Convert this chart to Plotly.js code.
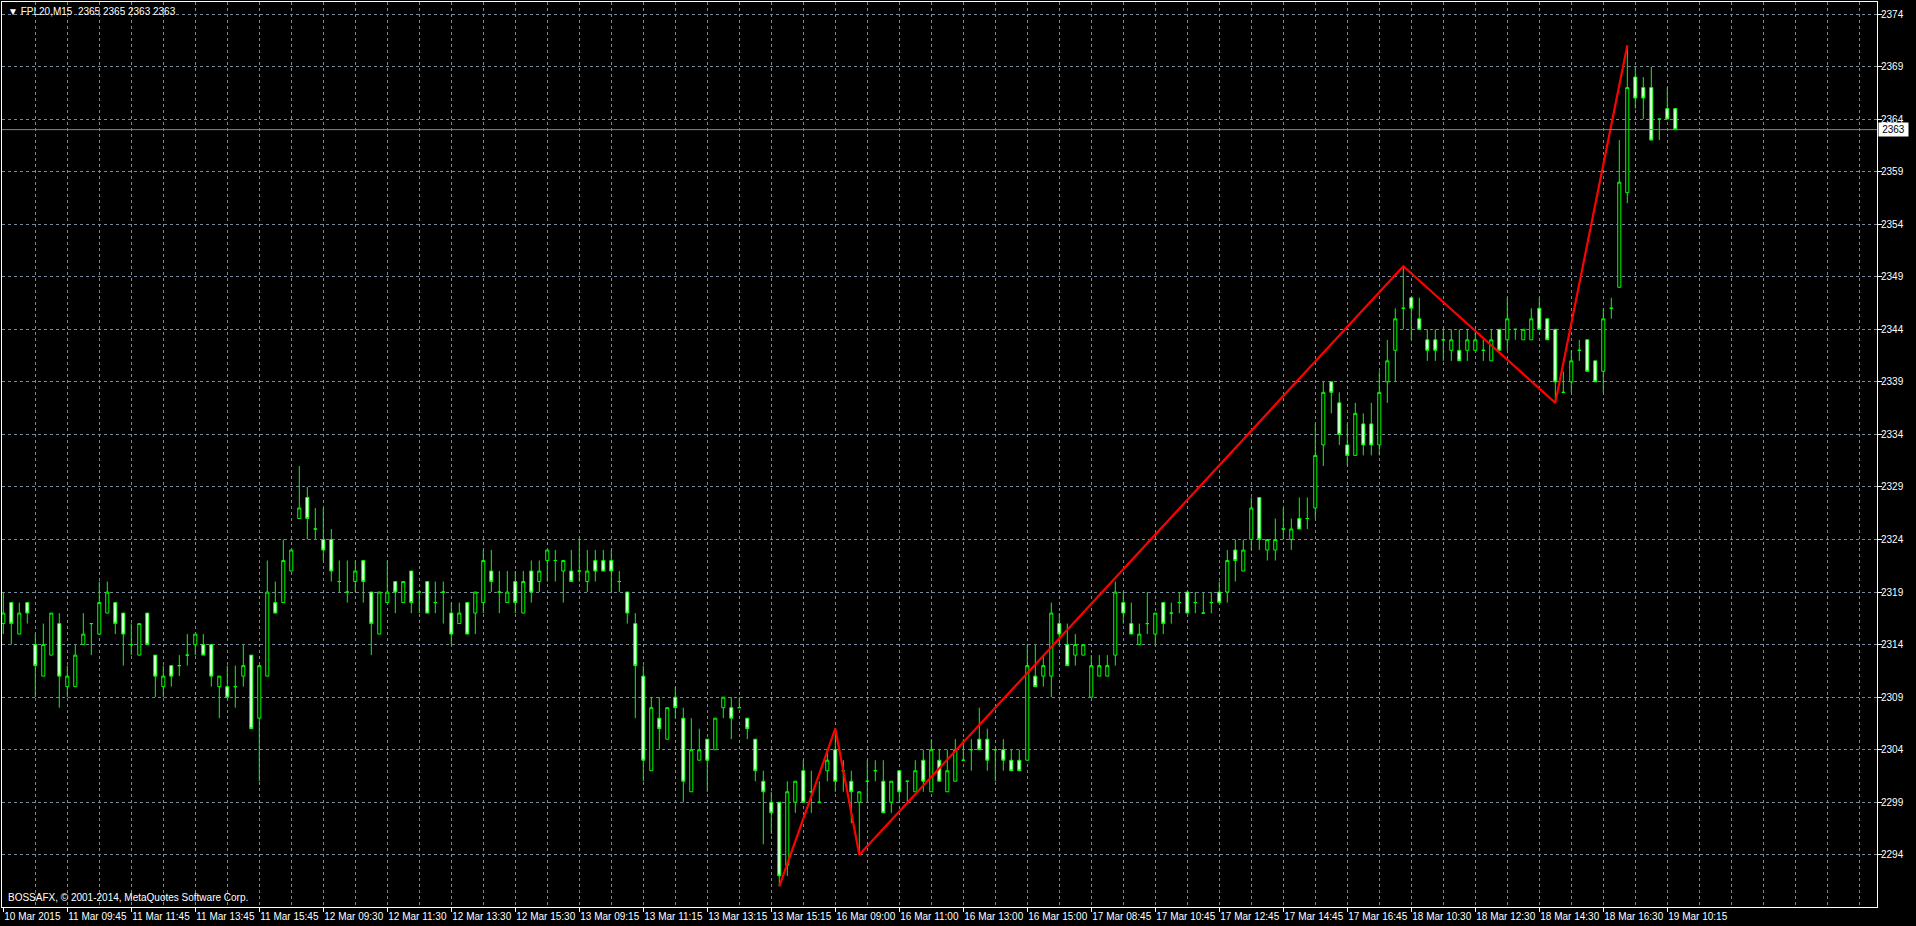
<!DOCTYPE html>
<html><head><meta charset="utf-8">
<script src="https://cdn.plot.ly/plotly-3.0.1.min.js"></script>
<style>html,body{margin:0;padding:0;background:#000;overflow:hidden}#chart{width:1916px;height:926px}</style>
</head><body><div id="chart"></div>
<script>
const symbol = "FPL20,M15";
const copyright = "BOSSAFX, \u00A9 2001-2014, MetaQuotes Software Corp.";

const openP = [
2316,2318,2315,2318,2314,2311,2313,2316,2310,2310,2314,2316,2315,2317,2318,2317,2314,2313,2317,2313,
2310,2312,2312,2313,2314,2314,2314,2310,2310,2310,2311,2313,2307,2311,2318,2318,2321,2326,2328,2325,
2324,2324,2320,2319,2320,2322,2319,2315,2318,2320,2318,2321,2319,2320,2318,2319,2317,2316,2318,2317,
2318,2321,2319,2318,2320,2317,2321,2320,2322,2322,2321,2321,2321,2320,2322,2322,2322,2320,2319,2316,
2311,2302,2307,2305,2309,2307,2300,2303,2305,2304,2308,2308,2308,2307,2305,2301,2299,2299,2293,2299,
2302,2300,2299,2302,2304,2302,2301,2299,2301,2302,2301,2299,2302,2301,2300,2303,2300,2303,2300,2301,
2303,2304,2305,2305,2304,2304,2303,2303,2303,2311,2311,2311,2316,2314,2313,2313,2309,2311,2311,2313,
2318,2316,2314,2316,2315,2318,2317,2318,2319,2318,2317,2318,2319,2319,2323,2321,2324,2328,2323,2323,
2325,2324,2326,2326,2327,2333,2339,2337,2333,2332,2335,2335,2333,2339,2342,2346,2347,2345,2343,2343,
2343,2342,2342,2342,2342,2342,2341,2344,2343,2344,2343,2343,2346,2345,2344,2338,2339,2342,2343,2341,
2340,2346,2348,2357,2368,2367,2367,2364,2365,2365];
const highP = [
2319,2318,2318,2318,2315,2316,2317,2317,2312,2314,2317,2316,2320,2320,2318,2317,2316,2316,2317,2313,
2312,2312,2313,2315,2315,2315,2314,2311,2312,2312,2314,2313,2312,2322,2320,2324,2323,2331,2329,2327,
2327,2325,2322,2322,2322,2322,2319,2319,2322,2320,2320,2321,2319,2320,2320,2320,2318,2318,2318,2319,
2323,2323,2321,2321,2321,2321,2322,2322,2323,2323,2322,2323,2324,2323,2323,2323,2323,2321,2319,2317,
2312,2309,2309,2308,2310,2308,2307,2306,2305,2307,2309,2309,2309,2307,2305,2302,2300,2299,2301,2301,
2303,2302,2301,2304,2306,2303,2302,2300,2303,2303,2303,2301,2302,2301,2303,2304,2305,2304,2304,2305,
2305,2305,2308,2306,2304,2305,2304,2304,2314,2314,2313,2318,2317,2316,2315,2314,2313,2313,2313,2320,
2319,2318,2316,2319,2317,2318,2318,2319,2319,2319,2319,2319,2320,2323,2324,2324,2328,2328,2324,2326,
2327,2326,2328,2328,2335,2339,2339,2338,2335,2337,2336,2337,2340,2343,2346,2350,2347,2347,2344,2344,
2344,2344,2344,2344,2344,2343,2344,2344,2347,2344,2344,2346,2347,2345,2344,2340,2342,2343,2343,2341,
2346,2347,2362,2371,2369,2368,2369,2364,2367,2365];
const lowP = [
2315,2314,2315,2316,2309,2311,2313,2308,2309,2310,2314,2313,2315,2317,2315,2312,2313,2313,2314,2309,
2309,2310,2311,2312,2313,2313,2310,2307,2309,2308,2310,2306,2301,2311,2317,2318,2321,2326,2324,2324,
2322,2320,2319,2318,2319,2318,2313,2315,2318,2317,2318,2317,2317,2317,2317,2316,2314,2316,2315,2315,
2317,2319,2317,2318,2317,2317,2318,2319,2320,2320,2318,2320,2320,2319,2320,2321,2319,2319,2316,2307,
2301,2302,2304,2305,2307,2299,2300,2303,2300,2304,2307,2305,2308,2305,2301,2295,2296,2291,2292,2298,
2299,2298,2299,2301,2300,2300,2297,2294,2299,2301,2298,2298,2299,2299,2300,2300,2300,2301,2300,2301,
2303,2302,2304,2302,2301,2302,2302,2302,2303,2310,2310,2309,2314,2312,2312,2313,2309,2311,2311,2312,
2316,2315,2314,2315,2314,2315,2316,2317,2317,2317,2317,2317,2318,2318,2320,2321,2323,2323,2322,2322,
2324,2323,2325,2325,2326,2331,2336,2333,2331,2332,2332,2332,2332,2337,2339,2344,2343,2344,2341,2341,
2341,2341,2341,2341,2342,2341,2341,2342,2342,2343,2343,2343,2344,2343,2337,2338,2338,2341,2340,2339,
2338,2345,2348,2356,2365,2364,2362,2362,2364,2363];
const closeP = [
2317,2316,2317,2317,2312,2314,2317,2311,2311,2313,2315,2316,2318,2319,2316,2315,2314,2316,2314,2311,
2311,2311,2312,2313,2315,2313,2311,2311,2309,2310,2312,2306,2312,2319,2317,2322,2323,2327,2326,2325,
2323,2321,2320,2319,2321,2320,2316,2319,2319,2319,2320,2318,2319,2317,2318,2319,2315,2317,2315,2319,
2322,2320,2319,2319,2318,2320,2319,2321,2323,2322,2322,2320,2321,2321,2321,2321,2321,2320,2317,2312,
2303,2308,2306,2308,2308,2301,2304,2304,2303,2307,2309,2307,2308,2306,2302,2300,2298,2292,2300,2301,
2299,2300,2299,2303,2301,2302,2300,2300,2301,2302,2298,2301,2300,2301,2302,2301,2304,2301,2302,2304,
2303,2304,2304,2303,2304,2303,2302,2302,2312,2310,2312,2317,2315,2312,2314,2314,2312,2312,2312,2319,
2317,2315,2315,2316,2317,2316,2317,2318,2317,2318,2317,2318,2318,2322,2322,2323,2327,2324,2324,2324,
2325,2325,2325,2326,2332,2338,2338,2334,2332,2336,2333,2333,2338,2341,2345,2346,2346,2344,2342,2342,
2343,2343,2341,2343,2343,2342,2343,2342,2345,2344,2344,2345,2344,2343,2339,2338,2341,2342,2340,2339,
2345,2346,2358,2367,2366,2366,2362,2364,2364,2363];

const timeLabels = ["10 Mar 2015","11 Mar 09:45","11 Mar 11:45","11 Mar 13:45","11 Mar 15:45",
"12 Mar 09:30","12 Mar 11:30","12 Mar 13:30","12 Mar 15:30","13 Mar 09:15","13 Mar 11:15",
"13 Mar 13:15","13 Mar 15:15","16 Mar 09:00","16 Mar 11:00","16 Mar 13:00","16 Mar 15:00",
"17 Mar 08:45","17 Mar 10:45","17 Mar 12:45","17 Mar 14:45","17 Mar 16:45","18 Mar 10:30",
"18 Mar 12:30","18 Mar 14:30","18 Mar 16:30","19 Mar 10:15"];
const barsPerLabel = 8;
const priceTicks = [2294,2299,2304,2309,2314,2319,2324,2329,2334,2339,2344,2349,2354,2359,2364,2369,2374];

const zigzagBar = [97,104,107,175,194,203];
const zigzagPrice = [2291,2306,2294,2350,2337,2371];

const n = openP.length;
const bars = openP.map((_, i) => i);
const last = n - 1;
const FONT = "'Liberation Sans', Arial, sans-serif";
const GRID = "#778899";
const xRange = [-0.1625, 234.2125];
const yRange = [2289.034, 2375.142];

const gridBars = [];
for (let g = 4; g < xRange[1]; g += 4) gridBars.push(g);

const traces = [
  {type:'scatter', x:[], y:[], xaxis:'x2', yaxis:'y', hoverinfo:'skip', showlegend:false},
  {type:'candlestick', x:bars, open:openP, high:highP, low:lowP, close:closeP,
   increasing:{line:{color:'#00ff00', width:1}, fillcolor:'#000000'},
   decreasing:{line:{color:'#00ff00', width:1}, fillcolor:'#ffffff'},
   whiskerwidth:0, hoverinfo:'skip', showlegend:false},
  {type:'scatter', mode:'lines', x:zigzagBar, y:zigzagPrice,
   line:{color:'#ff0000', width:2.2}, hoverinfo:'skip', showlegend:false}
];

const layout = {
  width:1916, height:926,
  margin:{l:2, r:39, t:2, b:19, pad:0},
  paper_bgcolor:'#000', plot_bgcolor:'#000',
  showlegend:false, boxgap:0.45,
  font:{family:FONT, size:10, color:'#fff'},
  xaxis:{range:xRange, tickmode:'array',
    tickvals:timeLabels.map((_, i) => i*barsPerLabel), ticktext:timeLabels,
    ticks:'outside', ticklen:4, tickcolor:'#fff', tickwidth:1, tickangle:0,
    ticklabelposition:'outside right', automargin:false,
    showgrid:false, zeroline:false, showline:true, mirror:true, linecolor:'#fff', linewidth:1,
    rangeslider:{visible:false}, fixedrange:true,
    tickfont:{family:FONT, size:10, color:'#fff'}},
  xaxis2:{overlaying:'x', range:xRange, tickmode:'array', tickvals:gridBars,
    showticklabels:false, ticks:'', showgrid:true, gridcolor:GRID, griddash:'3px,3px', gridwidth:1,
    zeroline:false, showline:false, fixedrange:true},
  yaxis:{side:'right', range:yRange, tickmode:'array', tickvals:priceTicks,
    ticks:'outside', ticklen:4, tickcolor:'#fff', automargin:false, ticklabelstandoff:-3,
    showgrid:true, gridcolor:GRID, griddash:'3px,3px', gridwidth:1,
    zeroline:false, showline:true, mirror:true, linecolor:'#fff', linewidth:1,
    fixedrange:true, tickfont:{family:FONT, size:10, color:'#fff'}},
  shapes:[
    {type:'line', xref:'paper', x0:0, x1:1, yref:'y', y0:closeP[last], y1:closeP[last],
     line:{color:GRID, width:1}, layer:'above'}
  ],
  annotations:[
    {xref:'paper', x:1, xanchor:'left', xshift:1, yref:'y', y:closeP[last], yanchor:'middle',
     text:String(closeP[last]), showarrow:false, bgcolor:'#ffffff', width:27, height:11,
     font:{family:FONT, size:10, color:'#000'}},
    {xref:'paper', x:0, xanchor:'left', xshift:4, yref:'paper', y:1, yanchor:'top', yshift:-2,
     text:'\u25BC ' + symbol + '\u00A0\u00A0' + [openP[last], highP[last], lowP[last], closeP[last]].join(' '),
     showarrow:false, font:{family:FONT, size:10, color:'#fff'}},
    {xref:'paper', x:0, xanchor:'left', xshift:4, yref:'paper', y:0, yanchor:'bottom', yshift:2,
     text:copyright, showarrow:false, font:{family:FONT, size:10, color:'#fff'}}
  ]
};

Plotly.newPlot('chart', traces, layout, {staticPlot:true, displayModeBar:false});
</script></body></html>
